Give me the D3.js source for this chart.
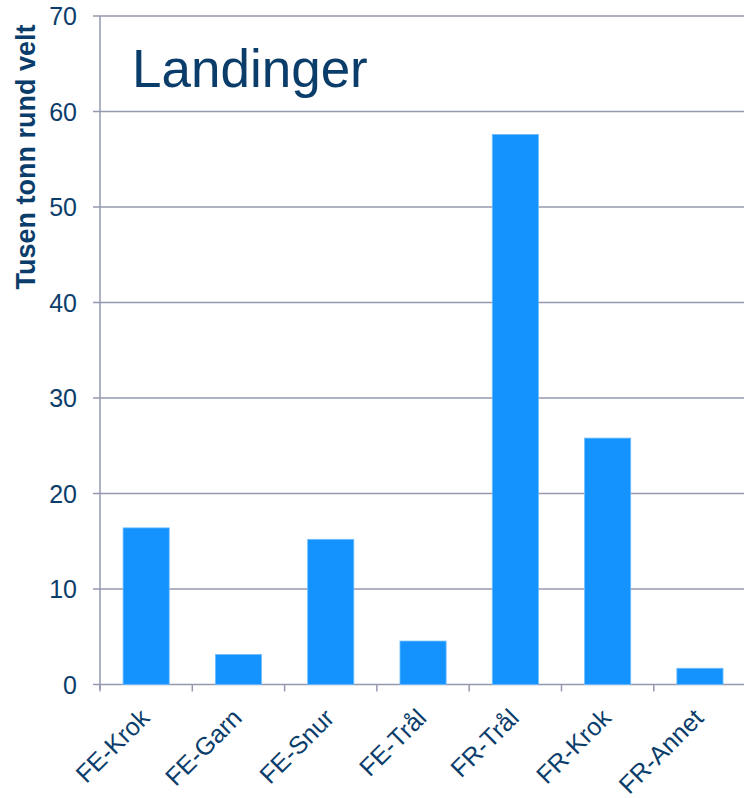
<!DOCTYPE html>
<html>
<head>
<meta charset="utf-8">
<script src="https://cdn.jsdelivr.net/npm/d3@7"></script>
<style>
  body { margin: 0; background: #fff; }
  svg { display: block; font-family: "Liberation Sans", Arial, sans-serif; }
</style>
</head>
<body>
<svg id="chart" width="744" height="798"></svg>
<script>
// Landinger, tusen tonn rund vekt
const categories = ["FE-Krok", "FE-Garn", "FE-Snur", "FE-Trål", "FR-Trål", "FR-Krok", "FR-Annet"];
const values = [16.4, 3.15, 15.2, 4.55, 57.6, 25.8, 1.7];
const yTicks = [0, 10, 20, 30, 40, 50, 60, 70];

const svg = d3.select("#chart");
const textColor = "#0b3d6b";
const gridColor = "#9499ae";

const plotLeft = 100, plotTop = 16, plotBottom = 684.5, bandW = 92.3;

const x = d3.scaleBand()
  .domain(categories)
  .range([plotLeft, plotLeft + bandW * categories.length])
  .paddingInner(0.5)
  .paddingOuter(0.25);

const y = d3.scaleLinear().domain([0, 70]).range([plotBottom, plotTop]);

// gridlines
svg.append("g")
  .selectAll("line")
  .data(yTicks)
  .join("line")
  .attr("x1", plotLeft - 7)
  .attr("x2", 744)
  .attr("y1", d => y(d))
  .attr("y2", d => y(d))
  .attr("stroke", gridColor)
  .attr("stroke-width", 1.5);

// y tick labels
svg.append("g")
  .selectAll("text")
  .data(yTicks)
  .join("text")
  .attr("x", 77)
  .attr("y", d => y(d))
  .attr("dy", "0.36em")
  .attr("text-anchor", "end")
  .attr("fill", textColor)
  .style("font-size", "25px")
  .text(d => d);

// bars
svg.append("g")
  .selectAll("rect")
  .data(values)
  .join("rect")
  .attr("x", (d, i) => x(categories[i]))
  .attr("width", x.bandwidth())
  .attr("y", d => y(d))
  .attr("height", d => y(0) - y(d))
  .attr("fill", "#1493ff")
  .attr("stroke", "#6fbfff")
  .attr("stroke-width", 0.8);

// y axis line
svg.append("line")
  .attr("x1", plotLeft).attr("x2", plotLeft)
  .attr("y1", plotTop).attr("y2", plotBottom + 5)
  .attr("stroke", gridColor).attr("stroke-width", 1.5);

// x ticks at band boundaries
const xTickPos = d3.range(categories.length + 1).map(i => plotLeft + i * bandW);
svg.append("g")
  .selectAll("line")
  .data(xTickPos)
  .join("line")
  .attr("x1", d => d).attr("x2", d => d)
  .attr("y1", plotBottom).attr("y2", plotBottom + 7)
  .attr("stroke", gridColor).attr("stroke-width", 1.5);

// x labels
svg.append("g")
  .selectAll("text")
  .data(categories)
  .join("text")
  .attr("transform", d => `translate(${x(d) + x.bandwidth() / 2 + 5},${plotBottom + 35}) rotate(-45)`)
  .attr("text-anchor", "end")
  .attr("fill", textColor)
  .style("font-size", "25px")
  .text(d => d);

// y axis title
svg.append("text")
  .attr("transform", `translate(35,157) rotate(-90)`)
  .attr("text-anchor", "middle")
  .attr("fill", textColor)
  .style("font-size", "27px")
  .style("font-weight", "bold")
  .text("Tusen tonn rund velt");

// chart title
svg.append("text")
  .attr("x", 132)
  .attr("y", 87)
  .attr("fill", textColor)
  .style("font-size", "53px")
  .text("Landinger");
</script>
</body>
</html>
